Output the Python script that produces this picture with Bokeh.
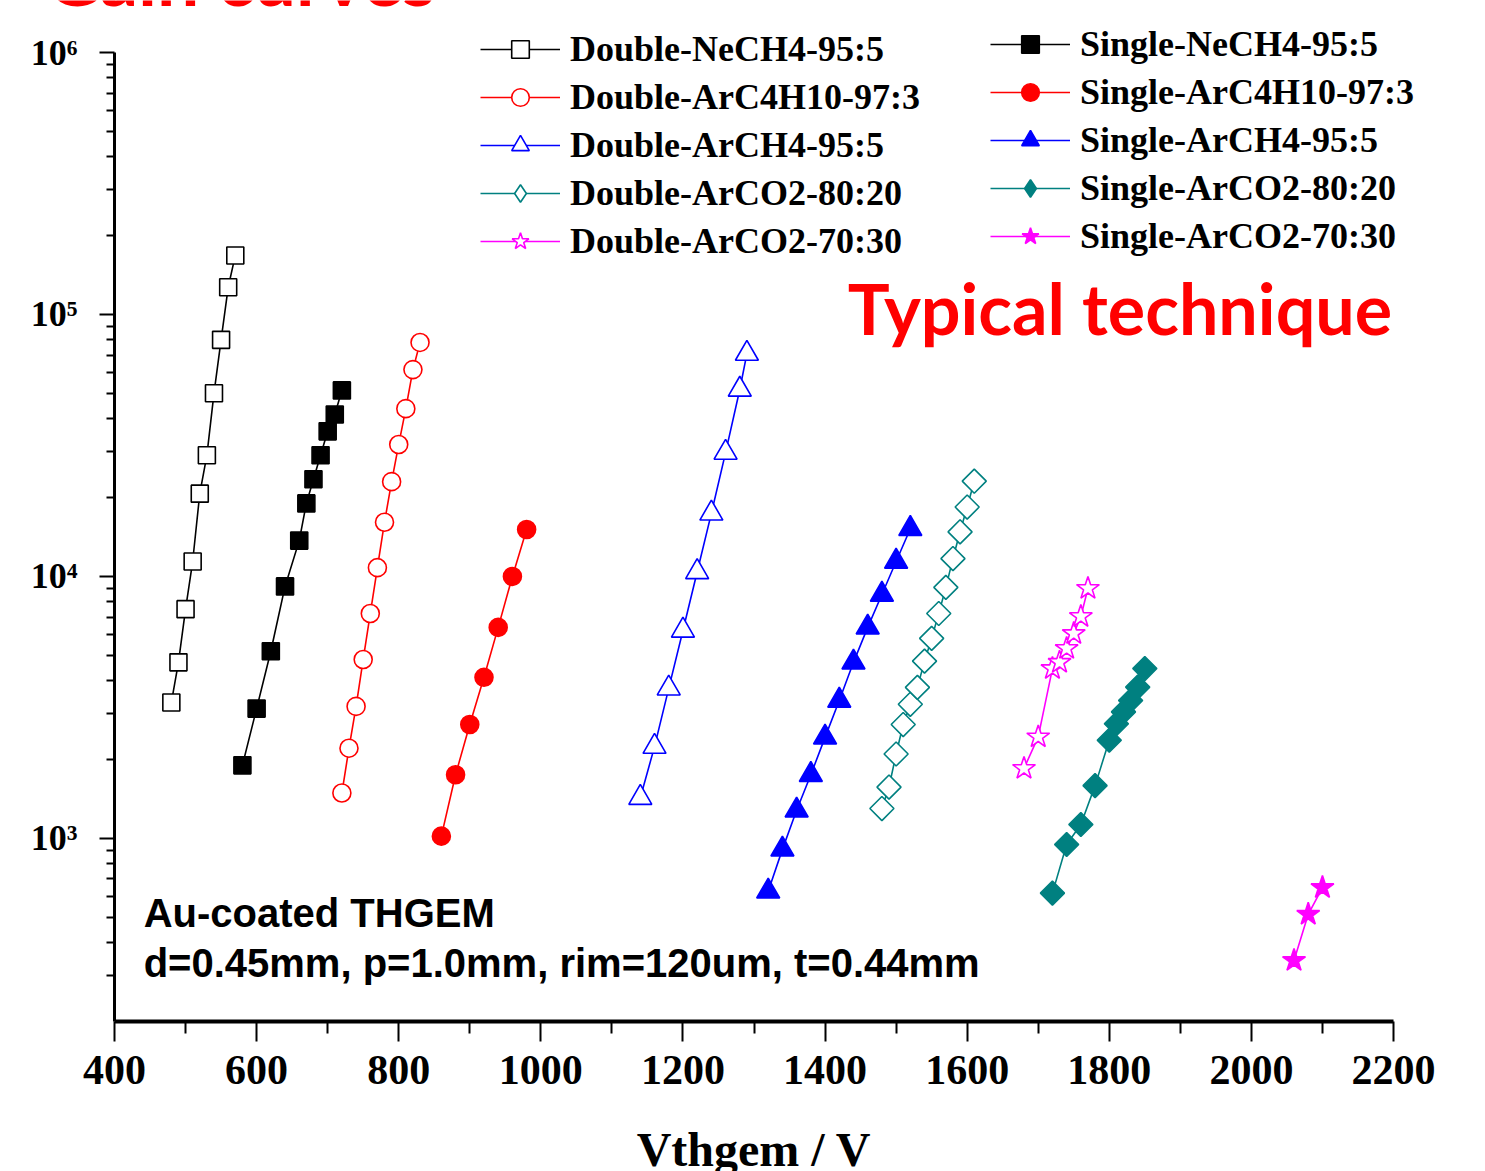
from bokeh.plotting import figure
from bokeh.models import Range1d, FixedTicker, Legend, LegendItem, Label
from bokeh.embed import file_html
from bokeh.resources import INLINE
import math

# THGEM voltage (V) and effective gain for each gas mixture
dbl_nech4_v = [480, 490, 500, 510, 520, 530, 540, 550, 560, 570]
dbl_nech4_g = [3300, 4700, 7500, 11400, 20700, 29000, 50000, 80000, 127000, 168000]

dbl_arc4h10_v = [720, 730, 740, 750, 760, 770, 780, 790, 800, 810, 820, 830]
dbl_arc4h10_g = [1490, 2210, 3190, 4820, 7220, 10800, 16100, 23000, 31900, 43700, 61600, 78200]

dbl_arch4_v = [1140, 1160, 1180, 1200, 1220, 1240, 1260, 1280, 1290]
dbl_arch4_g = [1430, 2240, 3740, 6220, 10400, 17400, 29700, 51700, 70900]

dbl_arco2_8020_v = [1480, 1490, 1500, 1510, 1520, 1530, 1540, 1550, 1560, 1570, 1580, 1590, 1600, 1610]
dbl_arco2_8020_g = [1300, 1570, 2100, 2720, 3250, 3770, 4750, 5800, 7220, 9080, 11700, 14800, 18400, 23100]

dbl_arco2_7030_v = [1680, 1700, 1720, 1730, 1740, 1750, 1760, 1770]
dbl_arco2_7030_g = [1850, 2440, 4450, 4700, 5310, 6050, 7030, 9000]

sgl_nech4_v = [580, 600, 620, 640, 660, 670, 680, 690, 700, 710, 720]
sgl_nech4_g = [1900, 3130, 5180, 9160, 13700, 19000, 23500, 29000, 35800, 41500, 51300]

sgl_arc4h10_v = [860, 880, 900, 920, 940, 960, 980]
sgl_arc4h10_g = [1020, 1750, 2720, 4120, 6390, 10000, 15100]

sgl_arch4_v = [1320, 1340, 1360, 1380, 1400, 1420, 1440, 1460, 1480, 1500, 1520]
sgl_arch4_g = [628, 908, 1280, 1750, 2430, 3360, 4700, 6390, 8530, 11400, 15200]

sgl_arco2_8020_v = [1720, 1740, 1760, 1780, 1800, 1810, 1820, 1830, 1840, 1850]
sgl_arco2_8020_g = [618, 948, 1130, 1590, 2370, 2740, 3040, 3360, 3780, 4450]

sgl_arco2_7030_v = [2060, 2080, 2100]
sgl_arco2_7030_g = [342, 513, 649]

x_ticks = [400, 600, 800, 1000, 1200, 1400, 1600, 1800, 2000, 2200]
x_minor = [500, 700, 900, 1100, 1300, 1500, 1700, 1900, 2100]
y_ticks = [1e3, 1e4, 1e5, 1e6]
y_tick_labels = ["10\u00b3", "10\u2074", "10\u2075", "10\u2076"]

BLACK, RED, BLUE, TEAL, MAGENTA = "#000000", "#FF0000", "#0000FF", "#008080", "#FF00FF"

# label, voltages, gains, colour, marker, legend marker, filled, size, angle
series = [
    ("Double-NeCH4-95:5", dbl_nech4_v, dbl_nech4_g, BLACK, "square", "square", False, 17, 0),
    ("Double-ArC4H10-97:3", dbl_arc4h10_v, dbl_arc4h10_g, RED, "circle", "circle", False, 18, 0),
    ("Double-ArCH4-95:5", dbl_arch4_v, dbl_arch4_g, BLUE, "triangle", "triangle", False, 23, 0),
    ("Double-ArCO2-80:20", dbl_arco2_8020_v, dbl_arco2_8020_g, TEAL, "square", "diamond", False, 17, math.pi / 4),
    ("Double-ArCO2-70:30", dbl_arco2_7030_v, dbl_arco2_7030_g, MAGENTA, "star", "star", False, 24, 0),
    ("Single-NeCH4-95:5", sgl_nech4_v, sgl_nech4_g, BLACK, "square", "square", True, 17, 0),
    ("Single-ArC4H10-97:3", sgl_arc4h10_v, sgl_arc4h10_g, RED, "circle", "circle", True, 18, 0),
    ("Single-ArCH4-95:5", sgl_arch4_v, sgl_arch4_g, BLUE, "triangle", "triangle", True, 23, 0),
    ("Single-ArCO2-80:20", sgl_arco2_8020_v, sgl_arco2_8020_g, TEAL, "square", "diamond", True, 17, math.pi / 4),
    ("Single-ArCO2-70:30", sgl_arco2_7030_v, sgl_arco2_7030_g, MAGENTA, "star", "star", True, 24, 0),
]

# The data frame covers the whole canvas; the axes sit at fixed locations
# (V = 400, gain = 200) and their bounds keep them to 400-2200 and 200-1e6.
W, H = 1485, 1171
AX_LEFT_PX, AX_BOTTOM_PX = 114, 1021
X_PX_PER_V = 1279 / 1800
Y_PX_PER_DEC = 969 / math.log10(1e6 / 200)
x_start = 400 - AX_LEFT_PX / X_PX_PER_V
x_end = 400 + (W - AX_LEFT_PX) / X_PX_PER_V
y_start = 200 * 10 ** (-(H - AX_BOTTOM_PX) / Y_PX_PER_DEC)
y_end = 200 * 10 ** (AX_BOTTOM_PX / Y_PX_PER_DEC)

p = figure(
    width=W, height=H,
    x_range=Range1d(x_start, x_end), y_range=Range1d(y_start, y_end),
    y_axis_type="log",
    output_backend="svg", toolbar_location=None,
    min_border_left=0, min_border_right=0,
    min_border_top=0, min_border_bottom=0,
)
p.grid.visible = False
p.outline_line_color = None
p.background_fill_color = "white"
p.border_fill_color = "white"

# bottom axis
xa = p.xaxis[0]
xa.fixed_location = 200
xa.bounds = (400, 2200)
xa.ticker = FixedTicker(ticks=x_ticks, minor_ticks=x_minor)
xa.axis_line_width = 4
xa.major_tick_line_width = 2
xa.minor_tick_line_width = 2
xa.major_tick_out = 20
xa.major_tick_in = 0
xa.minor_tick_out = 12
xa.minor_tick_in = 0
xa.major_label_standoff = 14
xa.major_label_text_font = "Liberation Serif"
xa.major_label_text_font_style = "bold"
xa.major_label_text_font_size = "42px"
xa.major_label_text_color = "black"

# left axis
ya = p.yaxis[0]
ya.fixed_location = 400
ya.bounds = (200, 1e6)
ya.ticker = FixedTicker(
    ticks=y_ticks,
    minor_ticks=[m * 10 ** e for e in (2, 3, 4, 5) for m in range(2, 10) if 200 < m * 10 ** e < 1e6],
)
ya.major_label_overrides = {t: s for t, s in zip(y_ticks, y_tick_labels)}
ya.axis_line_width = 3
ya.major_tick_line_width = 2
ya.minor_tick_line_width = 2
ya.major_tick_out = 15
ya.major_tick_in = 0
ya.minor_tick_out = 8
ya.minor_tick_in = 0
ya.major_label_standoff = 22
ya.major_label_text_font = "Liberation Serif"
ya.major_label_text_font_style = "bold"
ya.major_label_text_font_size = "36px"
ya.major_label_text_color = "black"

items = []
for name, v, g, col, mk, leg_mk, filled, sz, ang in series:
    fill = col if filled else "white"
    ln = p.line(v, g, line_color=col, line_width=1.6)
    sc = p.scatter(v, g, marker=mk, size=sz, angle=ang,
                   line_color=col, line_width=1.6, fill_color=fill)
    if leg_mk != mk:
        # legend swatch only: one point placed outside the visible ranges
        sc = p.scatter([0], [1], marker=leg_mk, size=sz,
                       line_color=col, line_width=1.6, fill_color=fill)
    items.append(LegendItem(label=name, renderers=[ln, sc]))

legend_style = dict(
    label_text_font="Liberation Serif",
    label_text_font_style="bold",
    label_text_font_size="36px",
    label_text_color="black",
    glyph_width=80, glyph_height=44, label_height=44,
    spacing=4, padding=0, margin=0, label_standoff=10,
    border_line_color=None, background_fill_alpha=0,
)
p.add_layout(Legend(items=items[:5], location=(480, 908), **legend_style))
p.add_layout(Legend(items=items[5:], location=(990, 913), **legend_style))

note_style = dict(text_font="Liberation Sans", text_font_style="bold",
                  text_font_size="40px", text_color="black", text_baseline="alphabetic")
p.add_layout(Label(x=441, y=518, text="Au-coated THGEM", **note_style))
p.add_layout(Label(x=441, y=333, text="d=0.45mm, p=1.0mm, rim=120um, t=0.44mm", **note_style))

p.add_layout(Label(x=1300, y=65, text="Vthgem / V", text_align="center",
                   text_font="Liberation Serif", text_font_style="bold",
                   text_font_size="48px", text_color="black", text_baseline="alphabetic"))

title_style = dict(text_font="Lato", text_font_style="bold",
                   text_color=RED, text_baseline="alphabetic")
p.add_layout(Label(x=1432, y=1.055e5, text="Typical technique",
                   text_font_size="70px", **title_style))
p.add_layout(Label(x=303, y=1.95e6, text="Gain curves",
                   text_font_size="75px", **title_style))

open("out.html", "w").write(file_html(p, INLINE))
